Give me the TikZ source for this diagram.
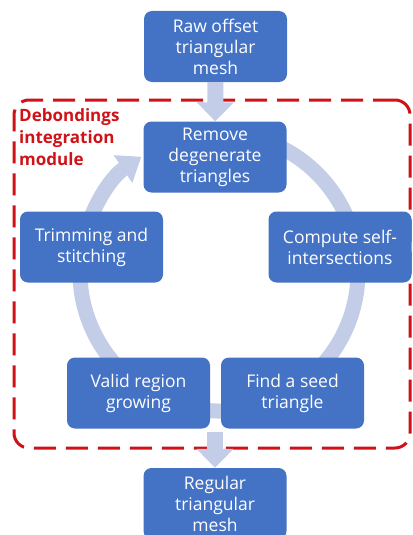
\documentclass[tikz,border=0pt]{standalone}
\usepackage{fontspec}
\setmainfont{Open Sans}
\usetikzlibrary{arrows.meta}
\definecolor{boxblue}{RGB}{68,114,196}
\definecolor{cyclegray}{RGB}{196,205,232}
\definecolor{modred}{RGB}{208,18,24}

\begin{document}
\begin{tikzpicture}[x=1pt,y=-1pt]
    \tikzstyle{stage}=[rectangle,rounded corners=8pt,fill=boxblue,text=white,minimum width=143pt,minimum height=71pt,inner sep=2pt,align=center,font=\fontsize{17.5}{21}\selectfont]
    \tikzstyle{block arrow}=[draw=cyclegray,line width=16pt,-{Triangle[width=36pt,length=19pt]}]
    \tikzstyle{cycle arrow}=[draw=cyclegray,line width=15pt,-{Triangle[width=32pt,length=22pt]}]
    \tikzstyle{annot}=[text=modred,font=\fontsize{17}{22}\selectfont\bfseries,align=left,anchor=north west,inner sep=0pt]

    \useasboundingbox (0,0) rectangle (412,535);
    \clip (0,0) rectangle (412,535);

    % The cycle arrow runs behind the stages
    \coordinate (C) at (219,272);
    \draw[cycle arrow] ([shift={(-80:139)}]C) arc[start angle=-80,end angle=236,radius=139];

    % Module frame and its label
    \node[draw=modred,line width=3pt,dash pattern=on 22pt off 10pt,rounded corners=15pt,
          minimum width=396pt,minimum height=348pt,inner sep=0pt] (module) at (212,274) {};
    \node[annot] (label) at (19,108) {Debondings\\integration\\module};

    % Draw the stages
    \node[stage] (raw) at (215.5,46.5) {Raw offset\\triangular\\mesh};
    \node[stage] (remove) at (215,157) {Remove\\degenerate\\triangles};
    \node[stage] (trim) at (91.5,247) {Trimming and\\stitching};
    \node[stage] (compute) at (340,247) {Compute self-\\intersections};
    \node[stage] (valid) at (138.5,393) {Valid region\\growing};
    \node[stage] (seed) at (292.5,393) {Find a seed\\triangle};
    \node[stage] (regular) at (215,503.5) {Regular\\triangular\\mesh};

    % Mesh goes into the module and comes out below it
    \coordinate (out) at (215,432);
    \draw[block arrow] (raw) -- (remove);
    \draw[block arrow] (out) -- (regular);
\end{tikzpicture}
\end{document}
